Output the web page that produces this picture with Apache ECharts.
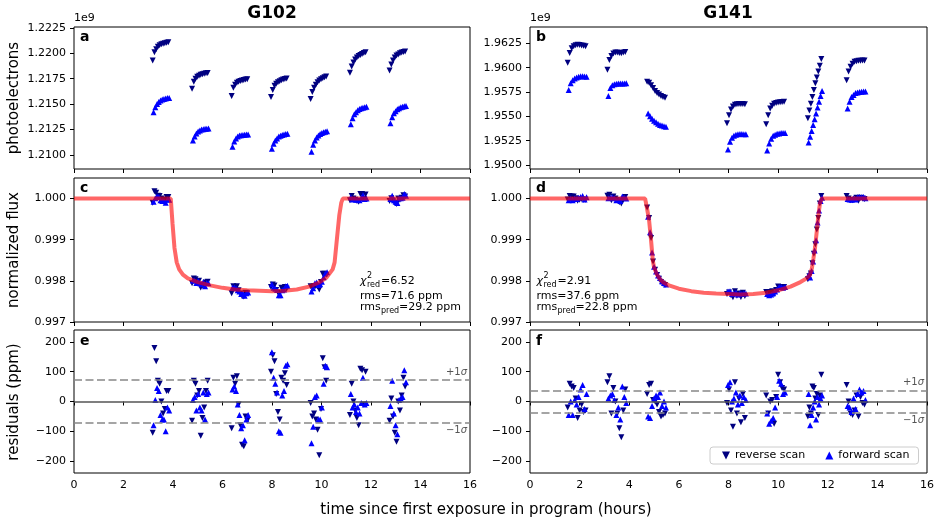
<!DOCTYPE html>
<html>
<head>
<meta charset="utf-8">
<title>G102 / G141 light curves</title>
<script src="https://cdn.jsdelivr.net/npm/echarts@6/dist/echarts.min.js"></script>
<style>
  html, body { margin: 0; padding: 0; background: #fff; }
  #chart { width: 941px; height: 523px; }
</style>
</head>
<body>
<div id="chart"></div>
<script>
// ---- G102 (left column) ----
const g102TimeRev = [3.18,3.25,3.32,3.39,3.46,3.53,3.60,3.67,3.74,3.81,
  4.77,4.84,4.91,4.98,5.05,5.12,5.19,5.26,5.33,5.40,
  6.37,6.44,6.51,6.58,6.65,6.72,6.79,6.86,6.93,7.00,
  7.96,8.03,8.10,8.17,8.24,8.31,8.38,8.45,8.52,8.59,
  9.56,9.63,9.70,9.77,9.84,9.91,9.98,10.05,10.12,10.19,
  11.15,11.22,11.29,11.36,11.43,11.50,11.57,11.64,11.71,11.78,
  12.75,12.82,12.89,12.96,13.03,13.10,13.17,13.24,13.31,13.38];
const g102TimeFwd = [3.215,3.285,3.355,3.425,3.495,3.565,3.635,3.705,3.775,3.845,
  4.805,4.875,4.945,5.015,5.085,5.155,5.225,5.295,5.365,5.435,
  6.405,6.475,6.545,6.615,6.685,6.755,6.825,6.895,6.965,7.035,
  7.995,8.065,8.135,8.205,8.275,8.345,8.415,8.485,8.555,8.625,
  9.595,9.665,9.735,9.805,9.875,9.945,10.015,10.085,10.155,10.225,
  11.185,11.255,11.325,11.395,11.465,11.535,11.605,11.675,11.745,11.815,
  12.785,12.855,12.925,12.995,13.065,13.135,13.205,13.275,13.345,13.415];
// photoelectrons, units of 1e9
const g102RawRev = [1.2193,1.2201,1.2204,1.22065,1.2208,1.2209,1.22095,1.2210,1.22105,1.2211,
  1.2165,1.2172,1.2175,1.2177,1.2178,1.21788,1.21795,1.2180,1.21803,1.21806,
  1.2158,1.2166,1.2169,1.2171,1.2172,1.21728,1.21733,1.21738,1.21742,1.21746,
  1.2157,1.2164,1.2168,1.2170,1.21715,1.21725,1.21735,1.21742,1.21748,1.21753,
  1.2155,1.2162,1.2166,1.2169,1.21715,1.21732,1.21745,1.21755,1.21765,1.21772,
  1.2181,1.2187,1.2191,1.2194,1.2196,1.21975,1.21985,1.21995,1.22003,1.2201,
  1.2183,1.2189,1.2193,1.2196,1.21978,1.2199,1.2200,1.22008,1.22014,1.22018];
const g102RawFwd = [1.2142,1.2147,1.2150,1.2152,1.21535,1.21545,1.2155,1.21555,1.2156,1.2156,
  1.2114,1.2118,1.2121,1.2123,1.2124,1.2125,1.21253,1.21256,1.21258,1.2126,
  1.2108,1.2113,1.2116,1.2118,1.2119,1.21193,1.21196,1.21198,1.2120,1.2120,
  1.2106,1.2111,1.2114,1.2116,1.2118,1.21188,1.21195,1.2120,1.21204,1.21208,
  1.2103,1.2110,1.2114,1.2117,1.2119,1.21205,1.21215,1.21222,1.21228,1.21232,
  1.2130,1.2136,1.2140,1.2142,1.2144,1.21452,1.2146,1.21465,1.2147,1.21473,
  1.2131,1.2137,1.2141,1.2143,1.2145,1.2146,1.21468,1.21474,1.21478,1.2148];
const g102FluxRev = [0.99990,1.00018,1.00014,1.00007,1.00006,1.00000,0.99996,0.99998,1.00004,1.00004,
  0.99794,0.99806,0.99804,0.99799,0.99800,0.99784,0.99789,0.99791,0.99796,0.99798,
  0.99770,0.99787,0.99784,0.99787,0.99777,0.99769,0.99763,0.99762,0.99771,0.99770,
  0.99785,0.99791,0.99789,0.99778,0.99772,0.99769,0.99783,0.99782,0.99785,0.99781,
  0.99787,0.99784,0.99787,0.99787,0.99786,0.99779,0.99797,0.99817,0.99817,0.99815,
  0.99996,1.00006,1.00000,0.99997,0.99995,0.99992,1.00011,1.00011,0.99999,1.00010,
  0.99994,1.00001,0.99995,0.99990,0.99987,1.00000,0.99997,1.00002,1.00008,1.00005];
const g102FluxFwd = [0.99992,1.00001,1.00005,1.00004,0.99996,0.99994,0.99994,0.99990,0.99998,0.99997,
  0.99801,0.99801,0.99795,0.99800,0.99794,0.99792,0.99797,0.99787,0.99795,0.99794,
  0.99783,0.99784,0.99782,0.99777,0.99774,0.99768,0.99769,0.99764,0.99770,0.99772,
  0.99792,0.99783,0.99781,0.99778,0.99765,0.99765,0.99777,0.99779,0.99787,0.99788,
  0.99774,0.99782,0.99794,0.99796,0.99790,0.99792,0.99798,0.99809,0.99818,0.99821,
  1.00003,0.99998,0.99999,0.99997,0.99998,0.99996,1.00000,1.00008,0.99999,1.00000,
  0.99999,1.00007,0.99996,0.99992,0.99989,1.00001,1.00001,1.00002,1.00011,1.00007];
const g102ResRev = [-105,180,135,70,60,0,-40,-25,35,35,
  -65,70,60,20,35,-115,-55,-20,35,70,
  -90,80,60,85,-10,-80,-145,-150,-50,-65,
  100,155,135,25,-35,-60,80,70,95,55,
  -5,-50,-40,-60,-95,-180,-25,145,115,70,
  -45,60,0,-30,-55,-80,110,105,-10,100,
  -65,10,-50,-105,-135,0,-30,20,80,50];
const g102ResFwd = [-80,5,45,35,-45,-60,-60,-100,-20,-30,
  5,15,-30,25,-20,-30,30,-60,25,30,
  40,50,35,-10,-45,-90,-80,-130,-60,-45,
  165,80,60,30,-100,-105,20,35,120,125,
  -140,-85,15,20,-60,-60,-20,60,120,115,
  25,-20,-10,-35,-20,-40,-5,80,-10,-5,
  -15,70,-40,-80,-110,5,10,15,105,65];
const g102ModelTime = [0,3.91,3.98,4.06,4.15,4.25,4.4,4.6,5.0,5.5,6.0,6.5,7.0,7.5,8.0,8.5,9.0,9.5,9.9,10.2,10.45,10.53,10.62,10.72,10.80,10.86,16];
const g102ModelFlux = [1,1,0.9994,0.9988,0.99845,0.99828,0.99815,0.99806,0.99797,0.99789,0.99783,0.99779,0.99777,0.99776,0.99775,0.99776,0.99779,0.99786,0.99796,0.99808,0.99828,0.99845,0.9990,0.9996,0.9999,1,1];
const g102Stats = [6.52, 71.6, 29.2];   // chi2_red, rms, rms_pred

// ---- G141 (right column) ----
const g141TimeRev = [1.52,1.60,1.68,1.76,1.84,1.92,2.00,2.08,2.16,2.24,
  3.12,3.20,3.28,3.36,3.44,3.52,3.60,3.68,3.76,3.84,
  4.72,4.80,4.88,4.96,5.04,5.12,5.20,5.28,5.36,5.44,
  7.94,8.02,8.10,8.18,8.26,8.34,8.42,8.50,8.58,8.66,
  9.52,9.60,9.68,9.76,9.84,9.92,10.00,10.08,10.16,10.24,
  11.20,11.26,11.32,11.38,11.44,11.50,11.56,11.62,11.68,11.74,
  12.76,12.84,12.92,13.00,13.08,13.16,13.24,13.32,13.40,13.48];
const g141TimeFwd = [1.56,1.64,1.72,1.80,1.88,1.96,2.04,2.12,2.20,2.28,
  3.16,3.24,3.32,3.40,3.48,3.56,3.64,3.72,3.80,3.88,
  4.76,4.84,4.92,5.00,5.08,5.16,5.24,5.32,5.40,5.48,
  7.98,8.06,8.14,8.22,8.30,8.38,8.46,8.54,8.62,8.70,
  9.56,9.64,9.72,9.80,9.88,9.96,10.04,10.12,10.20,10.28,
  11.23,11.29,11.35,11.41,11.47,11.53,11.59,11.65,11.71,11.77,
  12.80,12.88,12.96,13.04,13.12,13.20,13.28,13.36,13.44,13.52];
const g141RawRev = [1.9605,1.9615,1.9620,1.9622,1.9623,1.96235,1.96232,1.96228,1.96225,1.9622,
  1.9598,1.9608,1.9612,1.96145,1.96155,1.96155,1.9615,1.96148,1.96155,1.96162,
  1.95855,1.95845,1.9582,1.9579,1.9576,1.9574,1.95725,1.9571,1.9570,1.95692,
  1.9543,1.9551,1.9557,1.9560,1.9562,1.95625,1.95628,1.95628,1.95626,1.95624,
  1.9542,1.9551,1.9558,1.9561,1.9563,1.95638,1.95642,1.95646,1.95648,1.9565,
  1.9548,1.9556,1.9563,1.9570,1.9577,1.9584,1.9590,1.9596,1.9602,1.9609,
  1.9587,1.9596,1.9601,1.9604,1.9606,1.96066,1.9607,1.96072,1.96073,1.96074];
const g141RawFwd = [1.9577,1.9584,1.9587,1.9589,1.9590,1.95908,1.95912,1.95912,1.9591,1.95908,
  1.9571,1.9579,1.9582,1.9583,1.95836,1.95838,1.95838,1.95838,1.95838,1.9584,
  1.9553,1.9550,1.95475,1.95455,1.9544,1.95425,1.95412,1.95405,1.95398,1.95393,
  1.9516,1.9524,1.9528,1.9530,1.95312,1.95316,1.95318,1.95318,1.95316,1.95316,
  1.9515,1.9522,1.9527,1.9530,1.95312,1.9532,1.95325,1.95328,1.9533,1.9533,
  1.9523,1.9529,1.9535,1.9541,1.9547,1.9553,1.9559,1.9565,1.9571,1.9576,
  1.9558,1.9565,1.9570,1.9572,1.9574,1.95745,1.9575,1.95753,1.95755,1.95756];
const g141FluxRev = [0.99998,1.00006,1.00005,1.00005,1.00001,0.99995,0.99997,0.99999,0.99997,0.99997,
  1.00007,1.00009,0.99996,1.00005,1.00000,0.99996,0.99991,0.99988,0.99997,1.00004,
  0.99978,0.99953,0.99904,0.99847,0.99827,0.99814,0.99805,0.99797,0.99793,0.99790,
  0.99768,0.99772,0.99765,0.99760,0.99775,0.99764,0.99769,0.99761,0.99771,0.99763,
  0.99773,0.99768,0.99773,0.99775,0.99768,0.99778,0.99786,0.99785,0.99785,0.99785,
  0.99804,0.99811,0.99818,0.99843,0.99866,0.99889,0.99925,0.99953,0.99988,1.00006,
  1.00006,1.00000,0.99996,0.99996,0.99997,1.00002,0.99995,1.00002,1.00000,0.99999];
const g141FluxFwd = [0.99996,1.00000,0.99996,1.00001,0.99999,1.00002,1.00004,1.00006,0.99998,1.00003,
  1.00001,1.00002,1.00003,1.00001,0.99996,0.99998,0.99994,1.00005,1.00002,1.00000,
  0.99956,0.99918,0.99869,0.99834,0.99823,0.99813,0.99807,0.99799,0.99795,0.99791,
  0.99774,0.99775,0.99768,0.99769,0.99771,0.99767,0.99770,0.99768,0.99770,0.99769,
  0.99768,0.99765,0.99767,0.99770,0.99774,0.99779,0.99785,0.99785,0.99783,0.99785,
  0.99814,0.99808,0.99824,0.99847,0.99874,0.99899,0.99942,0.99971,0.99994,1.00002,
  0.99999,0.99998,0.99997,1.00001,0.99998,1.00003,1.00004,1.00003,1.00004,1.00001];
const g141ResRev = [-20,60,50,45,10,-55,-30,-10,-35,-30,
  65,85,-40,45,0,-40,-90,-120,-30,40,
  25,55,60,5,0,-10,-35,-50,-45,-40,
  -5,40,-30,-85,65,-40,10,-70,25,-55,
  20,-40,0,5,-75,15,90,65,45,40,
  -50,-20,-40,50,45,10,25,-45,20,90,
  55,0,-40,-45,-30,20,-50,15,-5,-10];
const g141ResFwd = [-45,0,-45,5,-10,15,40,55,-25,25,
  10,20,25,5,-45,-20,-60,50,15,-5,
  -50,-55,-15,10,20,15,30,-15,0,-20,
  55,65,0,10,30,-10,20,-5,15,5,
  -40,-75,-65,-55,-20,15,70,60,25,30,
  25,-80,-45,-20,0,-60,15,-10,10,20,
  -15,-20,-35,10,-25,25,40,30,35,5];
const g141ModelTime = [0,4.64,4.72,4.80,4.88,4.95,5.0,5.11,5.24,5.38,5.6,6.0,6.5,7.0,7.5,8.0,8.5,9.0,9.5,10.0,10.5,10.9,11.15,11.28,11.36,11.42,11.49,11.56,11.63,11.69,11.76,16];
const g141ModelFlux = [1,1,0.99975,0.99947,0.99898,0.99849,0.99833,0.99816,0.99804,0.99796,0.99789,0.99781,0.99775,0.99771,0.99769,0.99768,0.99767,0.99768,0.99771,0.99777,0.99786,0.99797,0.99806,0.99814,0.9983,0.99853,0.99882,0.99922,0.99963,0.9999,1,1];
const g141Stats = [2.91, 37.6, 22.8];

// tick labels
const g102RawTicks = [1.2100, 1.2125, 1.2150, 1.2175, 1.2200, 1.2225];
const g141RawTicks = [1.9500, 1.9525, 1.9550, 1.9575, 1.9600, 1.9625];
const fluxTicks = [0.997, 0.998, 0.999, 1.000];
const resTicks = [-200, -100, 0, 100, 200];

const FONT = 'DejaVu Sans';
const NAVY = '#000080';
const BLUE = '#0000ff';
const DOWN = 'path://M0,0L10,0L5,10Z';

function pairs(xs, ys) {
  return xs.map((x, i) => [x, ys[i]]);
}
function minus(s) {
  return s.replace('-', '\u2212');
}

const gridPos = [
  [74, 27, 396, 142], [530, 27, 397, 142],
  [74, 178, 396, 144], [530, 178, 397, 144],
  [74, 330, 396, 143], [530, 330, 397, 143]
];
const grids = gridPos.map(p => ({
  left: p[0], top: p[1], width: p[2], height: p[3],
  show: true, borderColor: '#000', borderWidth: 1
}));

const xAxes = gridPos.map((p, i) => ({
  type: 'value', gridIndex: i, min: 0, max: 16, interval: 2,
  axisLine: { show: false },
  splitLine: { show: false },
  axisTick: { show: true, length: 4, lineStyle: { color: '#000' } },
  axisLabel: { show: i >= 4, fontFamily: FONT, fontSize: 11, color: '#000', margin: 7 }
}));

function yAxis(i, min, max, ticks, fmt) {
  return {
    type: 'value', gridIndex: i, min: min, max: max,
    axisLine: { show: false },
    splitLine: { show: false },
    axisTick: { show: true, length: 4, customValues: ticks, lineStyle: { color: '#000' } },
    axisLabel: { customValues: ticks, formatter: fmt, fontFamily: FONT, fontSize: 11, color: '#000', margin: 8 }
  };
}
const yAxes = [
  yAxis(0, 1.2086, 1.2226, g102RawTicks, v => v.toFixed(4)),
  yAxis(1, 1.94959, 1.96418, g141RawTicks, v => v.toFixed(4)),
  yAxis(2, 0.997, 1.0005, fluxTicks, v => v.toFixed(3)),
  yAxis(3, 0.997, 1.0005, fluxTicks, v => v.toFixed(3)),
  yAxis(4, -240, 240, resTicks, v => minus(String(v))),
  yAxis(5, -240, 240, resTicks, v => minus(String(v)))
];

function scatter(i, rev, xs, ys) {
  return {
    type: 'scatter', name: rev ? 'reverse scan' : 'forward scan',
    xAxisIndex: i, yAxisIndex: i,
    data: pairs(xs, ys),
    symbol: rev ? DOWN : 'triangle', symbolSize: 6,
    itemStyle: { color: rev ? NAVY : BLUE, opacity: 1 },
    z: 2
  };
}
function model(i, xs, ys) {
  return {
    type: 'line', xAxisIndex: i, yAxisIndex: i,
    data: pairs(xs, ys), showSymbol: false, symbol: 'none',
    lineStyle: { color: 'rgba(255,0,0,0.6)', width: 4 },
    z: 3
  };
}
function sigmaLines(i, rms) {
  const lbl = { fontFamily: FONT, fontSize: 10, color: '#555' };
  const rich = { n: lbl, s: Object.assign({ fontStyle: 'italic' }, lbl) };
  return {
    type: 'line', xAxisIndex: i, yAxisIndex: i, data: [],
    markLine: {
      silent: true, symbol: ['none', 'none'], animation: false,
      data: [
        { yAxis: 0, lineStyle: { type: 'solid', color: '#555', width: 1.5 }, label: { show: false } },
        { yAxis: rms, lineStyle: { type: [8, 3.5], color: '#888', width: 1.5 },
          label: { show: true, position: 'insideEndTop', formatter: '{n|+1}{s|σ}', rich: rich, distance: 3 } },
        { yAxis: -rms, lineStyle: { type: [8, 3.5], color: '#888', width: 1.5 },
          label: { show: true, position: 'insideEndBottom', formatter: '{n|\u22121}{s|σ}', rich: rich, distance: 3 } }
      ]
    },
    z: 1
  };
}

const series = [
  scatter(0, true, g102TimeRev, g102RawRev),
  scatter(0, false, g102TimeFwd, g102RawFwd),
  scatter(1, true, g141TimeRev, g141RawRev),
  scatter(1, false, g141TimeFwd, g141RawFwd),
  scatter(2, true, g102TimeRev, g102FluxRev),
  scatter(2, false, g102TimeFwd, g102FluxFwd),
  model(2, g102ModelTime, g102ModelFlux),
  scatter(3, true, g141TimeRev, g141FluxRev),
  scatter(3, false, g141TimeFwd, g141FluxFwd),
  model(3, g141ModelTime, g141ModelFlux),
  sigmaLines(4, g102Stats[1]),
  scatter(4, true, g102TimeRev, g102ResRev),
  scatter(4, false, g102TimeFwd, g102ResFwd),
  sigmaLines(5, g141Stats[1]),
  scatter(5, true, g141TimeRev, g141ResRev),
  scatter(5, false, g141TimeFwd, g141ResFwd)
];

function txt(x, y, text, size, extra) {
  return {
    type: 'text', x: x, y: y, z: 10,
    style: Object.assign({
      text: text, fontFamily: FONT, fontSize: size, fill: '#000',
      align: 'left', verticalAlign: 'middle'
    }, extra || {})
  };
}
function statsText(x0, st) {
  return [
    txt(x0, 281, 'χ', 11, { fontStyle: 'italic' }),
    txt(x0 + 7, 276, '2', 8),
    txt(x0 + 7, 285, 'red', 8),
    txt(x0 + 21, 281, '=' + st[0].toFixed(2), 11),
    txt(x0, 296, 'rms=' + st[1].toFixed(1) + ' ppm', 11),
    txt(x0, 307.5, 'rms', 11),
    txt(x0 + 21, 311, 'pred', 8),
    txt(x0 + 39, 307.5, '=' + st[2].toFixed(1) + ' ppm', 11)
  ];
}
const bold = { fontWeight: 'bold' };
const center = { align: 'center' };
const graphic = [
  txt(272, 14, 'G102', 17, { fontWeight: 'bold', align: 'center' }),
  txt(728, 14, 'G141', 17, { fontWeight: 'bold', align: 'center' }),
  txt(74, 18, '1e9', 11),
  txt(530, 18, '1e9', 11),
  txt(80, 37, 'a', 14, bold), txt(536, 37, 'b', 14, bold),
  txt(80, 188, 'c', 14, bold), txt(536, 188, 'd', 14, bold),
  txt(80, 341, 'e', 14, bold), txt(536, 341, 'f', 14, bold),
  Object.assign(txt(14, 98, 'photoelectrons', 15, center), { rotation: Math.PI / 2 }),
  Object.assign(txt(14, 250, 'normalized flux', 15, center), { rotation: Math.PI / 2 }),
  Object.assign(txt(14, 402, 'residuals (ppm)', 15, center), { rotation: Math.PI / 2 }),
  txt(486, 510, 'time since first exposure in program (hours)', 15, center)
].concat(statsText(360, g102Stats), statsText(536.5, g141Stats));

const chart = echarts.init(document.getElementById('chart'), null, { renderer: 'canvas' });
chart.setOption({
  animation: false,
  backgroundColor: '#fff',
  grid: grids,
  xAxis: xAxes,
  yAxis: yAxes,
  legend: {
    data: ['reverse scan', 'forward scan'],
    left: 710, top: 447,
    padding: [3, 9, 3, 12],
    itemWidth: 8, itemHeight: 8, itemGap: 20,
    borderColor: '#ccc', borderWidth: 1, borderRadius: 3,
    backgroundColor: 'rgba(255,255,255,0.8)',
    selectedMode: false,
    textStyle: { fontFamily: FONT, fontSize: 11, color: '#000' },
    z: 5
  },
  graphic: graphic,
  series: series
});
</script>
</body>
</html>
